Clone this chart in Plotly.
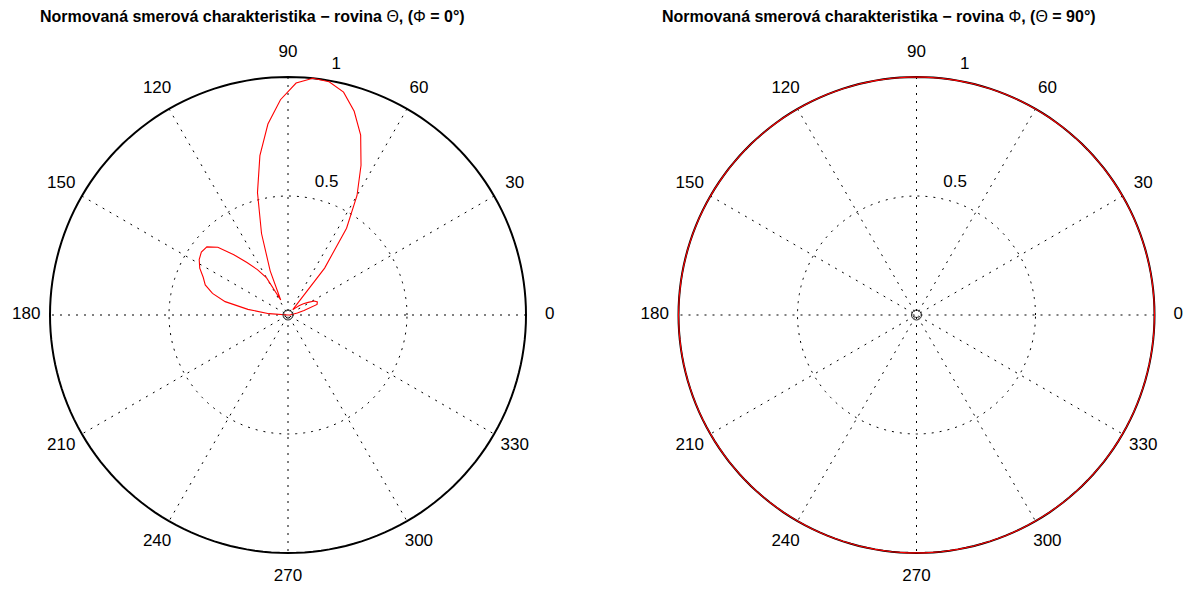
import plotly.graph_objects as go

# ---- data ----
theta_deg = [0, 4, 8, 12, 16, 20, 24, 28, 32, 36, 40, 44, 48, 52, 56, 60, 64, 68, 72, 76,
             80, 84, 88, 92, 96, 100, 104, 108, 112, 116, 120, 124, 128, 132, 136, 140,
             144, 148, 152, 156, 160, 164, 168, 172, 176, 180]
r_theta = [0.0, 0.01, 0.02, 0.04, 0.07, 0.13, 0.135, 0.125, 0.10, 0.08, 0.06, 0.04, 0.03,
           0.25, 0.44, 0.58, 0.70, 0.815, 0.90, 0.965, 0.995, 1.0, 0.975, 0.905, 0.807,
           0.68, 0.53, 0.36, 0.20, 0.07, 0.18, 0.23, 0.28, 0.34, 0.41, 0.445, 0.45, 0.44,
           0.42, 0.39, 0.37, 0.33, 0.27, 0.17, 0.08, 0.0]

phi_deg = list(range(0, 361, 4))
r_phi = [1.0] * len(phi_deg)

angle_ticks = [0, 30, 60, 90, 120, 150, 180, 210, 240, 270, 300, 330]
angle_labels = ["0", "30", "60", "90", "120", "150", "180", "210", "240", "270", "300", "330"]
radial_ticks = [0.5, 1.0]
radial_labels = ["0.5", "1"]

titles = [
    "<b>Normovaná smerová charakteristika − rovina</b> Θ<b>, (</b>Φ<b> = 0°)</b>",
    "<b>Normovaná smerová charakteristika − rovina</b> Φ<b>, (</b>Θ<b> = 90°)</b>",
]

FONT = "Liberation Sans, Arial, Helvetica, sans-serif"
OFF = 8                      # page body margin
FW, FH = 1194 - OFF, 593 - OFF
RMAX = 1.12                  # radial range (labels at 1.1 stay inside)
R_PX = 238                   # pixels for r = 1
CY = 315                     # window y of the centres
centers_x = [288, 916.5]
GRID_DASH = "2px,6px"

circle_theta = list(range(0, 361, 2))
spoke_theta, spoke_r = [], []
for a in angle_ticks[:6]:
    spoke_theta += [a, a, a + 180, None]
    spoke_r += [1.0, 0.0, 1.0, None]

fig = go.Figure()
series = [(theta_deg, r_theta), (phi_deg, r_phi)]
for i, (th, rr) in enumerate(series):
    sub = "polar" if i == 0 else "polar2"
    common = dict(subplot=sub, hoverinfo="skip", showlegend=False)
    # dotted grid: spokes + 0.5 circle
    fig.add_trace(go.Scatterpolar(theta=spoke_theta, r=spoke_r, mode="lines",
                                  line=dict(color="black", width=1, dash=GRID_DASH),
                                  connectgaps=False, **common))
    for t in radial_ticks[:-1]:
        fig.add_trace(go.Scatterpolar(theta=circle_theta, r=[t] * len(circle_theta),
                                      mode="lines",
                                      line=dict(color="black", width=1, dash=GRID_DASH),
                                      **common))
    # solid outer circle
    fig.add_trace(go.Scatterpolar(theta=circle_theta, r=[radial_ticks[-1]] * len(circle_theta),
                                  mode="lines", line=dict(color="black", width=2), **common))
    # data
    fig.add_trace(go.Scatterpolar(theta=th, r=rr, mode="lines",
                                  line=dict(color="red", width=1.1), **common))
    # origin marker
    fig.add_trace(go.Scatterpolar(theta=[0], r=[0], mode="markers",
                                  marker=dict(symbol="circle-open", size=10,
                                              color="#222", line=dict(width=1)),
                                  **common))
    # angular labels at 1.1 R
    fig.add_trace(go.Scatterpolar(theta=angle_ticks, r=[1.1] * len(angle_ticks),
                                  mode="text", text=angle_labels,
                                  textposition="middle center",
                                  textfont=dict(family=FONT, size=17, color="black"),
                                  cliponaxis=False, **common))
    # radial labels near 82 degrees
    fig.add_trace(go.Scatterpolar(theta=[82] * len(radial_ticks),
                                  r=[t + 0.025 for t in radial_ticks],
                                  mode="text",
                                  text=["\u00a0\u00a0" + s for s in radial_labels],
                                  textposition="top right",
                                  textfont=dict(family=FONT, size=17, color="black"),
                                  cliponaxis=False, **common))


def polar_layout(cx):
    rp = R_PX * RMAX
    fx = cx - OFF
    fy = FH - (CY - OFF)
    return dict(
        domain=dict(x=[(fx - rp) / FW, (fx + rp) / FW],
                    y=[(fy - rp) / FH, (fy + rp) / FH]),
        bgcolor="rgba(0,0,0,0)",
        radialaxis=dict(range=[0, RMAX], visible=False, showgrid=False),
        angularaxis=dict(rotation=0, direction="counterclockwise", visible=False,
                         showgrid=False, showline=False, showticklabels=False, ticks=""),
    )


fig.update_layout(
    width=FW, height=FH,
    margin=dict(l=0, r=0, t=0, b=0),
    paper_bgcolor="white",
    plot_bgcolor="white",
    polar=polar_layout(centers_x[0]),
    polar2=polar_layout(centers_x[1]),
    showlegend=False,
)

title_x = [252, 879]
for tx, tt in zip(title_x, titles):
    fig.add_annotation(text=tt, x=(tx - OFF) / FW, y=1 - (16.5 - OFF) / FH,
                       xref="paper", yref="paper",
                       xanchor="center", yanchor="middle", showarrow=False,
                       font=dict(family=FONT, size=16, color="black"))

fig.write_html("out.html")
